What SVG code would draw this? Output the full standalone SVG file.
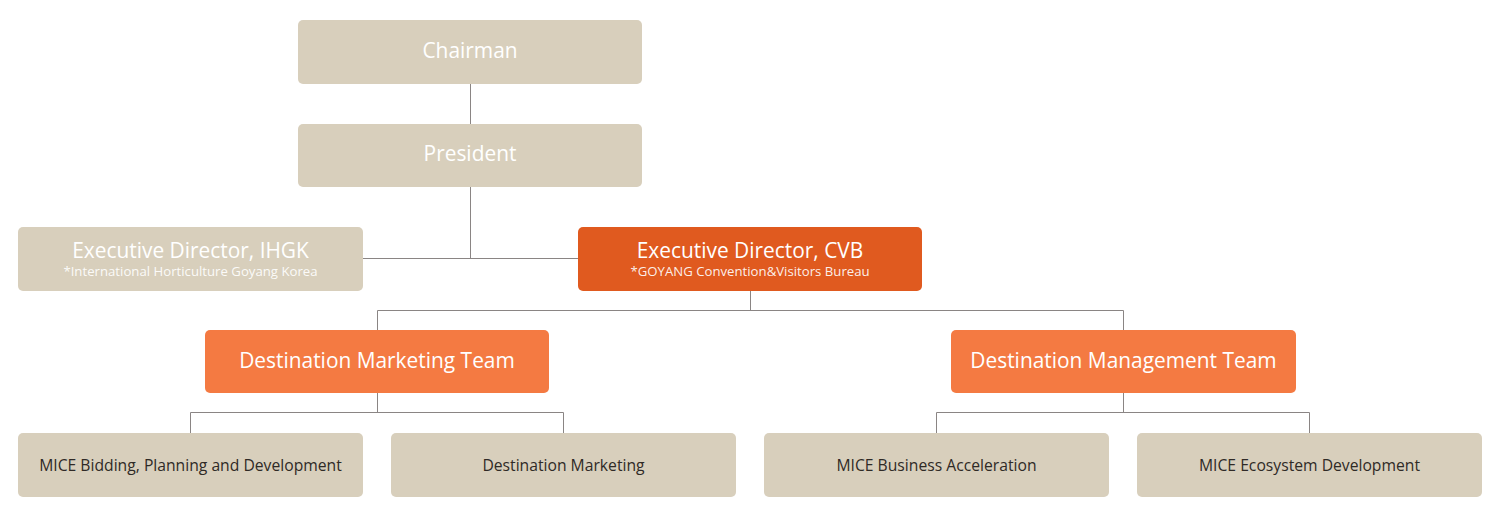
<svg xmlns="http://www.w3.org/2000/svg" width="1500" height="517" viewBox="0 0 1500 517">
<style>
.box{fill:#D8CFBC}
.cvb{fill:#E05A1F}
.team{fill:#F47A42}
.lbl{font-family:"Open Sans","Liberation Sans",sans-serif;fill:#FFFFFF;text-anchor:middle}
.big{font-size:20.9px}
.sub{font-size:13.2px;fill-opacity:0.92}
.dark{font-family:"Open Sans","Liberation Sans",sans-serif;fill:#2F2A26;text-anchor:middle;font-size:15.7px}
.ln{stroke:#8A8584;stroke-width:1;fill:none}
</style>
<rect width="1500" height="517" fill="#FFFFFF"/>
<g id="connectors">
<path class="ln" d="M470.5 84V124"/>
<path class="ln" d="M470.5 187V258.5"/>
<path class="ln" d="M363 258.5H578"/>
<path class="ln" d="M750.5 291V310.5M377.5 330V310.5H1123.5V330"/>
<path class="ln" d="M377.5 393V412.5M190.5 433V412.5H563.5V433"/>
<path class="ln" d="M1123.5 393V412.5M936.5 433V412.5H1309.5V433"/>
</g>
<g id="chairman"><rect class="box" x="298" y="20" width="344" height="64" rx="5"/><text class="lbl big" x="470" y="58">Chairman</text></g>
<g id="president"><rect class="box" x="298" y="124" width="344" height="63" rx="5"/><text class="lbl big" x="470" y="161">President</text></g>
<g id="ed-ihgk"><rect class="box" x="18" y="227" width="345" height="64" rx="5"/><text class="lbl big" x="190.5" y="258">Executive Director, IHGK</text><text class="lbl sub" x="190.5" y="276">*International Horticulture Goyang Korea</text></g>
<g id="ed-cvb"><rect class="cvb" x="578" y="227" width="344" height="64" rx="5"/><text class="lbl big" x="750" y="258">Executive Director, CVB</text><text class="lbl sub" x="750" y="276">*GOYANG Convention&amp;Visitors Bureau</text></g>
<g id="dmt"><rect class="team" x="205" y="330" width="344" height="63" rx="5"/><text class="lbl big" x="377" y="368">Destination Marketing Team</text></g>
<g id="dmgt"><rect class="team" x="951" y="330" width="345" height="63" rx="5"/><text class="lbl big" x="1123.5" y="368">Destination Management Team</text></g>
<g id="mice-bidding"><rect class="box" x="18" y="433" width="345" height="64" rx="5"/><text class="dark" x="190.5" y="471">MICE Bidding, Planning and Development</text></g>
<g id="dest-marketing"><rect class="box" x="391" y="433" width="345" height="64" rx="5"/><text class="dark" x="563.5" y="471">Destination Marketing</text></g>
<g id="mice-business"><rect class="box" x="764" y="433" width="345" height="64" rx="5"/><text class="dark" x="936.5" y="471">MICE Business Acceleration</text></g>
<g id="mice-ecosystem"><rect class="box" x="1137" y="433" width="345" height="64" rx="5"/><text class="dark" x="1309.5" y="471">MICE Ecosystem Development</text></g>
</svg>
